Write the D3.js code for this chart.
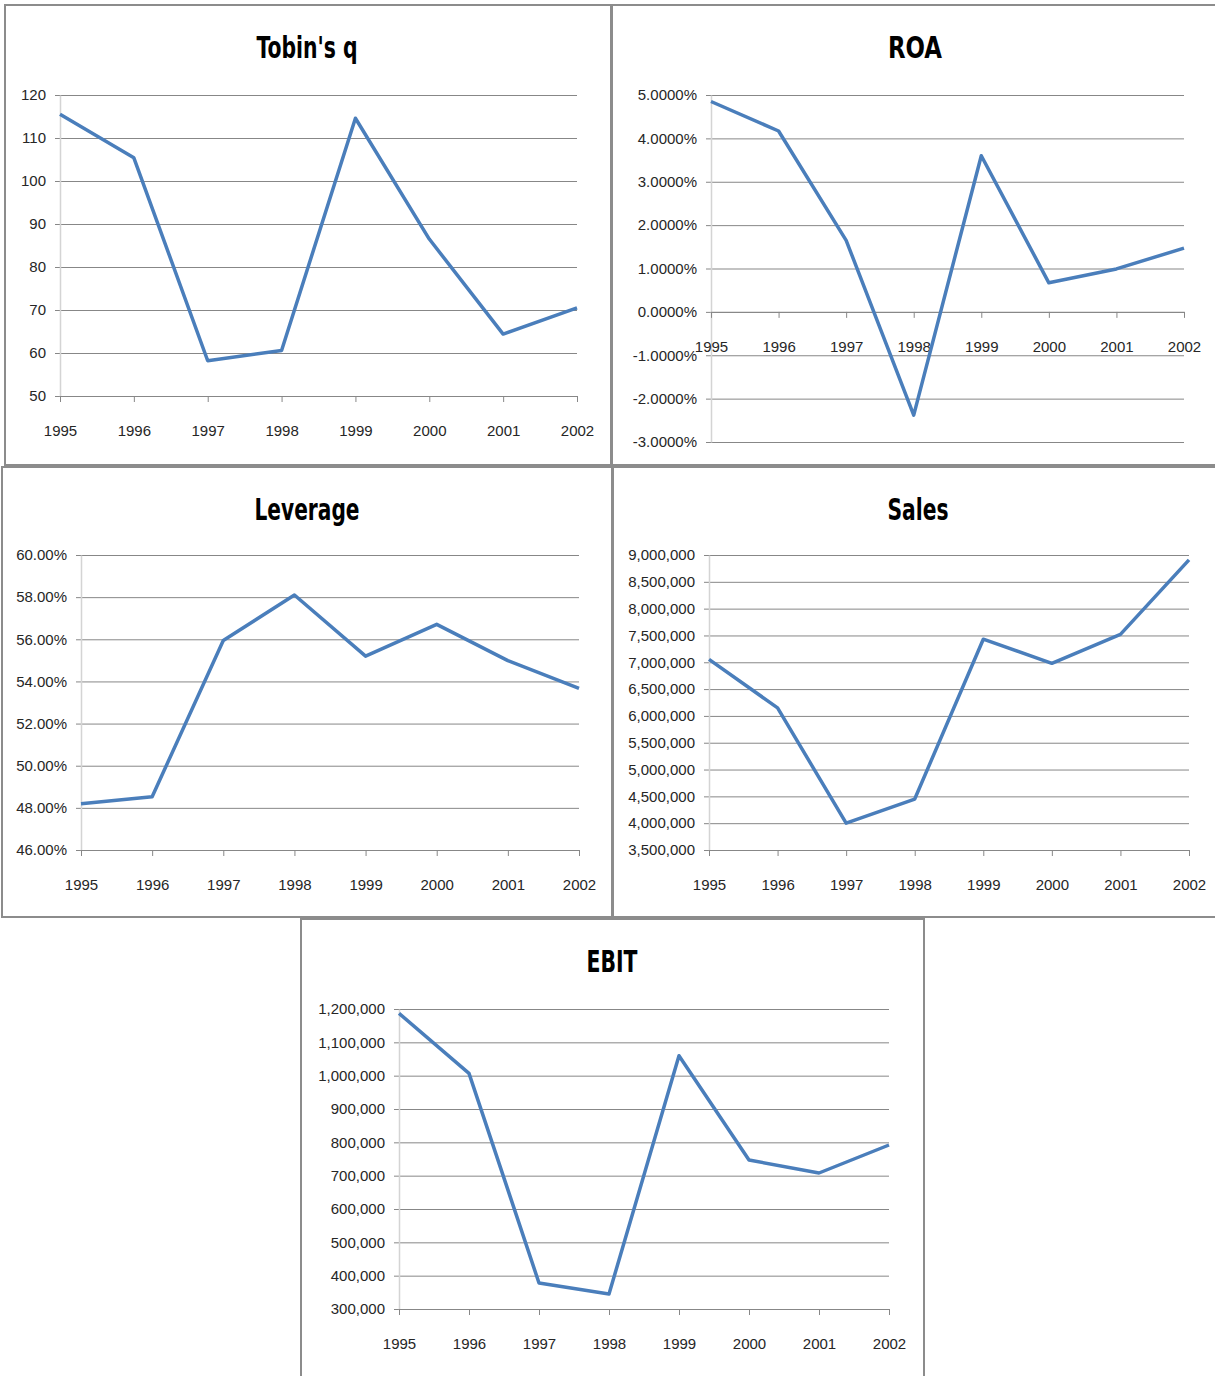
<!DOCTYPE html>
<html>
<head>
<meta charset="utf-8">
<script src="https://cdn.jsdelivr.net/npm/d3@7"></script>
<style>
  body { margin: 0; background: #fff; }
  svg { display: block; }
  .tick text { font-family: "Liberation Sans", Arial, sans-serif; font-size: 15px; fill: #262626; }
</style>
</head>
<body>
<svg id="chart"></svg>
<script>
const W = 1215
const H = 1376

// data
const years = ["1995", "1996", "1997", "1998", "1999", "2000", "2001", "2002"]
const tobinQ = [115.5, 105.4, 58.2, 60.6, 114.6, 86.5, 64.4, 70.5]
const roa = [4.85, 4.17, 1.65, -2.38, 3.6, 0.67, 0.99, 1.47]          // percent
const leverage = [48.2, 48.53, 55.94, 58.1, 55.2, 56.71, 54.99, 53.67] // percent
const sales = [7055000, 6150000, 4000000, 4450000, 7430000, 6980000, 7520000, 8910000]
const ebit = [1187000, 1007000, 378000, 345000, 1060000, 747000, 708000, 792000]

// tick values
const tobinTicks = [50, 60, 70, 80, 90, 100, 110, 120]
const roaTicks = [-3, -2, -1, 0, 1, 2, 3, 4, 5]
const leverageTicks = [46, 48, 50, 52, 54, 56, 58, 60]
const salesTicks = d3.range(3500000, 9000001, 500000)
const ebitTicks = d3.range(300000, 1200001, 100000)

const comma = d3.format(",")

const panels = [
  { title: "Tobin's q", titleW: 101, values: tobinQ, ticks: tobinTicks, fmt: d => d,
    box: [5, 5, 606, 460], plot: [60, 95, 577, 396], base: 50, titleX: 307 },
  { title: "ROA", titleW: 54, values: roa, ticks: roaTicks, fmt: d => d.toFixed(4) + "%",
    box: [612, 5, 610, 460], plot: [711, 95, 1184, 442], base: 0, titleX: 915 },
  { title: "Leverage", titleW: 105, values: leverage, ticks: leverageTicks, fmt: d => d.toFixed(2) + "%",
    box: [2, 467, 610, 450], plot: [81, 555, 579, 850], base: 46, titleX: 307 },
  { title: "Sales", titleW: 61, values: sales, ticks: salesTicks, fmt: comma,
    box: [613, 467, 610, 450], plot: [709, 555, 1189, 850], base: 3500000, titleX: 918 },
  { title: "EBIT", titleW: 51, values: ebit, ticks: ebitTicks, fmt: comma,
    box: [301, 919, 623, 470], plot: [399, 1009, 889, 1309], base: 300000, titleX: 612 }
]

const svg = d3.select("#chart")
  .attr("width", W)
  .attr("height", H)
  .style("background", "#fff")

panels.forEach(p => {
  const [x0, y0, x1, y1] = p.plot
  const g = svg.append("g")

  g.append("rect")
    .attr("x", p.box[0])
    .attr("y", p.box[1])
    .attr("width", p.box[2])
    .attr("height", p.box[3])
    .attr("fill", "none")
    .attr("stroke", "#8c8c8c")
    .attr("stroke-width", 2)

  g.append("text")
    .attr("x", p.titleX)
    .attr("y", p.box[1] + 53)
    .attr("text-anchor", "middle")
    .attr("textLength", p.titleW)
    .attr("lengthAdjust", "spacingAndGlyphs")
    .style("font-family", "'Liberation Sans Narrow', 'DejaVu Sans Condensed', sans-serif")
    .style("font-weight", "bold")
    .style("font-size", "31px")
    .style("fill", "#000")
    .text(p.title)

  const x = d3.scalePoint().domain(years).range([x0, x1])
  const y = d3.scaleLinear()
    .domain([d3.min(p.ticks), d3.max(p.ticks)])
    .range([y1, y0])

  // gridlines, with short outside ticks on the left
  const grid = g.append("g")
    .attr("transform", `translate(${x0 - 5},0)`)
    .call(d3.axisLeft(y).tickValues(p.ticks).tickSize(-(x1 - x0 + 5)).tickFormat(""))
  grid.select(".domain").remove()
  grid.selectAll("line").attr("stroke", "#878787")

  // y labels and axis line
  const ya = g.append("g")
    .attr("transform", `translate(${x0},0)`)
    .call(d3.axisLeft(y).tickValues(p.ticks).tickSize(0).tickSizeOuter(0).tickPadding(14).tickFormat(p.fmt))
  ya.select(".domain").attr("stroke", "#d4d4d4").attr("stroke-width", 1.5)

  // category axis
  const xa = g.append("g")
    .attr("transform", `translate(0,${y(p.base)})`)
    .call(d3.axisBottom(x).tickSize(6).tickSizeOuter(0).tickPadding(23))
  xa.select(".domain").attr("stroke", "#878787")
  xa.selectAll("line").attr("stroke", "#878787")

  const line = d3.line()
    .x((d, i) => x(years[i]))
    .y(d => y(d))

  g.append("path")
    .datum(p.values)
    .attr("d", line)
    .attr("fill", "none")
    .attr("stroke", "#4a7ebb")
    .attr("stroke-width", 3.5)
    .attr("stroke-linejoin", "round")
})
</script>
</body>
</html>
